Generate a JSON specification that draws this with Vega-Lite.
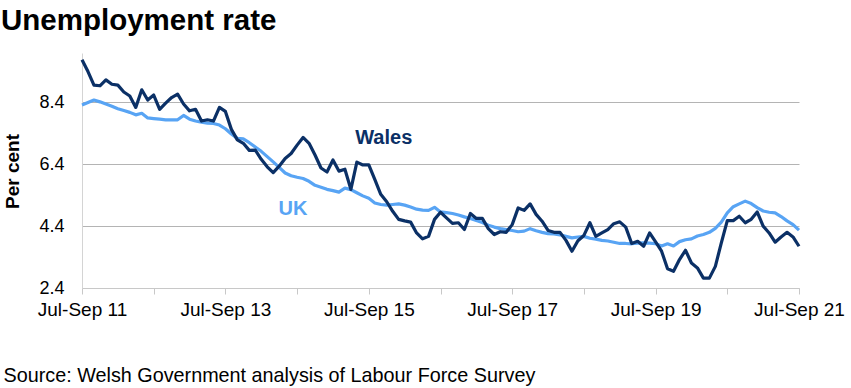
{
  "$schema": "https://vega.github.io/schema/vega-lite/v6.json",
  "width": 717,
  "height": 235,
  "autosize": {"type": "none"},
  "padding": {"left": 82, "top": 53, "right": 52, "bottom": 100},
  "config": {"view": {"stroke": null}, "font": "Liberation Sans"},
  "title": {"text": "Unemployment rate", "anchor": "start", "frame": "bounds", "fontSize": 29.5, "fontWeight": "bold", "color": "#000000", "dx": -2, "offset": 17, "font": "Liberation Sans"},
  "data": {"values": [
    {"period": "Jul-Sep 11", "i": 0, "Wales": 9.78, "UK": 8.32},
    {"period": "Aug-Oct 11", "i": 1, "Wales": 9.4, "UK": 8.40},
    {"period": "Sep-Nov 11", "i": 2, "Wales": 8.96, "UK": 8.48},
    {"period": "Oct-Dec 11", "i": 3, "Wales": 8.94, "UK": 8.42},
    {"period": "Nov-Jan 12", "i": 4, "Wales": 9.13, "UK": 8.35},
    {"period": "Dec-Feb 12", "i": 5, "Wales": 8.99, "UK": 8.28},
    {"period": "Jan-Mar 12", "i": 6, "Wales": 8.96, "UK": 8.20},
    {"period": "Feb-Apr 12", "i": 7, "Wales": 8.74, "UK": 8.14},
    {"period": "Mar-May 12", "i": 8, "Wales": 8.61, "UK": 8.08},
    {"period": "Apr-Jun 12", "i": 9, "Wales": 8.24, "UK": 8.00},
    {"period": "May-Jul 12", "i": 10, "Wales": 8.81, "UK": 8.05},
    {"period": "Jun-Aug 12", "i": 11, "Wales": 8.48, "UK": 7.90},
    {"period": "Jul-Sep 12", "i": 12, "Wales": 8.64, "UK": 7.88},
    {"period": "Aug-Oct 12", "i": 13, "Wales": 8.18, "UK": 7.86},
    {"period": "Sep-Nov 12", "i": 14, "Wales": 8.38, "UK": 7.84},
    {"period": "Oct-Dec 12", "i": 15, "Wales": 8.56, "UK": 7.84},
    {"period": "Nov-Jan 13", "i": 16, "Wales": 8.67, "UK": 7.84},
    {"period": "Dec-Feb 13", "i": 17, "Wales": 8.35, "UK": 7.98},
    {"period": "Jan-Mar 13", "i": 18, "Wales": 8.13, "UK": 7.86},
    {"period": "Feb-Apr 13", "i": 19, "Wales": 8.18, "UK": 7.80},
    {"period": "Mar-May 13", "i": 20, "Wales": 7.80, "UK": 7.76},
    {"period": "Apr-Jun 13", "i": 21, "Wales": 7.84, "UK": 7.73},
    {"period": "May-Jul 13", "i": 22, "Wales": 7.80, "UK": 7.72},
    {"period": "Jun-Aug 13", "i": 23, "Wales": 8.24, "UK": 7.67},
    {"period": "Jul-Sep 13", "i": 24, "Wales": 8.11, "UK": 7.55},
    {"period": "Aug-Oct 13", "i": 25, "Wales": 7.53, "UK": 7.38},
    {"period": "Sep-Nov 13", "i": 26, "Wales": 7.19, "UK": 7.24},
    {"period": "Oct-Dec 13", "i": 27, "Wales": 7.08, "UK": 7.22},
    {"period": "Nov-Jan 14", "i": 28, "Wales": 6.85, "UK": 7.10},
    {"period": "Dec-Feb 14", "i": 29, "Wales": 6.86, "UK": 6.96},
    {"period": "Jan-Mar 14", "i": 30, "Wales": 6.56, "UK": 6.82},
    {"period": "Feb-Apr 14", "i": 31, "Wales": 6.32, "UK": 6.65},
    {"period": "Mar-May 14", "i": 32, "Wales": 6.13, "UK": 6.48},
    {"period": "Apr-Jun 14", "i": 33, "Wales": 6.34, "UK": 6.30},
    {"period": "May-Jul 14", "i": 34, "Wales": 6.59, "UK": 6.12},
    {"period": "Jun-Aug 14", "i": 35, "Wales": 6.75, "UK": 6.03},
    {"period": "Jul-Sep 14", "i": 36, "Wales": 7.02, "UK": 5.98},
    {"period": "Aug-Oct 14", "i": 37, "Wales": 7.27, "UK": 5.94},
    {"period": "Sep-Nov 14", "i": 38, "Wales": 7.08, "UK": 5.85},
    {"period": "Oct-Dec 14", "i": 39, "Wales": 6.70, "UK": 5.72},
    {"period": "Nov-Jan 15", "i": 40, "Wales": 6.28, "UK": 5.66},
    {"period": "Dec-Feb 15", "i": 41, "Wales": 6.15, "UK": 5.59},
    {"period": "Jan-Mar 15", "i": 42, "Wales": 6.54, "UK": 5.55},
    {"period": "Feb-Apr 15", "i": 43, "Wales": 6.18, "UK": 5.50},
    {"period": "Mar-May 15", "i": 44, "Wales": 6.24, "UK": 5.63},
    {"period": "Apr-Jun 15", "i": 45, "Wales": 5.59, "UK": 5.58},
    {"period": "May-Jul 15", "i": 46, "Wales": 6.47, "UK": 5.48},
    {"period": "Jun-Aug 15", "i": 47, "Wales": 6.38, "UK": 5.38},
    {"period": "Jul-Sep 15", "i": 48, "Wales": 6.38, "UK": 5.30},
    {"period": "Aug-Oct 15", "i": 49, "Wales": 5.91, "UK": 5.15},
    {"period": "Sep-Nov 15", "i": 50, "Wales": 5.43, "UK": 5.10},
    {"period": "Oct-Dec 15", "i": 51, "Wales": 5.19, "UK": 5.08},
    {"period": "Nov-Jan 16", "i": 52, "Wales": 4.88, "UK": 5.10},
    {"period": "Dec-Feb 16", "i": 53, "Wales": 4.62, "UK": 5.12},
    {"period": "Jan-Mar 16", "i": 54, "Wales": 4.57, "UK": 5.08},
    {"period": "Feb-Apr 16", "i": 55, "Wales": 4.53, "UK": 5.02},
    {"period": "Mar-May 16", "i": 56, "Wales": 4.18, "UK": 4.95},
    {"period": "Apr-Jun 16", "i": 57, "Wales": 3.99, "UK": 4.92},
    {"period": "May-Jul 16", "i": 58, "Wales": 4.07, "UK": 4.91},
    {"period": "Jun-Aug 16", "i": 59, "Wales": 4.62, "UK": 5.01},
    {"period": "Jul-Sep 16", "i": 60, "Wales": 4.85, "UK": 4.86},
    {"period": "Aug-Oct 16", "i": 61, "Wales": 4.67, "UK": 4.84},
    {"period": "Sep-Nov 16", "i": 62, "Wales": 4.49, "UK": 4.81},
    {"period": "Oct-Dec 16", "i": 63, "Wales": 4.51, "UK": 4.76},
    {"period": "Nov-Jan 17", "i": 64, "Wales": 4.29, "UK": 4.70},
    {"period": "Dec-Feb 17", "i": 65, "Wales": 4.81, "UK": 4.65},
    {"period": "Jan-Mar 17", "i": 66, "Wales": 4.65, "UK": 4.58},
    {"period": "Feb-Apr 17", "i": 67, "Wales": 4.65, "UK": 4.52},
    {"period": "Mar-May 17", "i": 68, "Wales": 4.32, "UK": 4.43},
    {"period": "Apr-Jun 17", "i": 69, "Wales": 4.13, "UK": 4.37},
    {"period": "May-Jul 17", "i": 70, "Wales": 4.22, "UK": 4.32},
    {"period": "Jun-Aug 17", "i": 71, "Wales": 4.20, "UK": 4.29},
    {"period": "Jul-Sep 17", "i": 72, "Wales": 4.45, "UK": 4.26},
    {"period": "Aug-Oct 17", "i": 73, "Wales": 4.99, "UK": 4.22},
    {"period": "Sep-Nov 17", "i": 74, "Wales": 4.91, "UK": 4.24},
    {"period": "Oct-Dec 17", "i": 75, "Wales": 5.12, "UK": 4.32},
    {"period": "Nov-Jan 18", "i": 76, "Wales": 4.78, "UK": 4.25},
    {"period": "Dec-Feb 18", "i": 77, "Wales": 4.56, "UK": 4.20},
    {"period": "Jan-Mar 18", "i": 78, "Wales": 4.26, "UK": 4.16},
    {"period": "Feb-Apr 18", "i": 79, "Wales": 4.20, "UK": 4.15},
    {"period": "Mar-May 18", "i": 80, "Wales": 4.20, "UK": 4.12},
    {"period": "Apr-Jun 18", "i": 81, "Wales": 3.94, "UK": 4.07},
    {"period": "May-Jul 18", "i": 82, "Wales": 3.59, "UK": 4.02},
    {"period": "Jun-Aug 18", "i": 83, "Wales": 3.93, "UK": 4.05},
    {"period": "Jul-Sep 18", "i": 84, "Wales": 4.10, "UK": 4.07},
    {"period": "Aug-Oct 18", "i": 85, "Wales": 4.51, "UK": 4.01},
    {"period": "Sep-Nov 18", "i": 86, "Wales": 4.07, "UK": 3.98},
    {"period": "Oct-Dec 18", "i": 87, "Wales": 4.18, "UK": 3.94},
    {"period": "Nov-Jan 19", "i": 88, "Wales": 4.29, "UK": 3.92},
    {"period": "Dec-Feb 19", "i": 89, "Wales": 4.48, "UK": 3.88},
    {"period": "Jan-Mar 19", "i": 90, "Wales": 4.54, "UK": 3.84},
    {"period": "Feb-Apr 19", "i": 91, "Wales": 4.37, "UK": 3.84},
    {"period": "Mar-May 19", "i": 92, "Wales": 3.84, "UK": 3.83},
    {"period": "Apr-Jun 19", "i": 93, "Wales": 3.91, "UK": 3.85},
    {"period": "May-Jul 19", "i": 94, "Wales": 3.75, "UK": 3.86},
    {"period": "Jun-Aug 19", "i": 95, "Wales": 4.18, "UK": 3.85},
    {"period": "Jul-Sep 19", "i": 96, "Wales": 3.89, "UK": 3.83},
    {"period": "Aug-Oct 19", "i": 97, "Wales": 3.59, "UK": 3.76},
    {"period": "Sep-Nov 19", "i": 98, "Wales": 3.02, "UK": 3.83},
    {"period": "Oct-Dec 19", "i": 99, "Wales": 2.94, "UK": 3.76},
    {"period": "Nov-Jan 20", "i": 100, "Wales": 3.32, "UK": 3.90},
    {"period": "Dec-Feb 20", "i": 101, "Wales": 3.62, "UK": 3.96},
    {"period": "Jan-Mar 20", "i": 102, "Wales": 3.21, "UK": 3.99},
    {"period": "Feb-Apr 20", "i": 103, "Wales": 3.05, "UK": 4.08},
    {"period": "Mar-May 20", "i": 104, "Wales": 2.72, "UK": 4.13},
    {"period": "Apr-Jun 20", "i": 105, "Wales": 2.72, "UK": 4.20},
    {"period": "May-Jul 20", "i": 106, "Wales": 3.10, "UK": 4.33},
    {"period": "Jun-Aug 20", "i": 107, "Wales": 3.86, "UK": 4.53},
    {"period": "Jul-Sep 20", "i": 108, "Wales": 4.58, "UK": 4.83},
    {"period": "Aug-Oct 20", "i": 109, "Wales": 4.58, "UK": 5.03},
    {"period": "Sep-Nov 20", "i": 110, "Wales": 4.72, "UK": 5.12},
    {"period": "Oct-Dec 20", "i": 111, "Wales": 4.51, "UK": 5.21},
    {"period": "Nov-Jan 21", "i": 112, "Wales": 4.62, "UK": 5.13},
    {"period": "Dec-Feb 21", "i": 113, "Wales": 4.86, "UK": 5.00},
    {"period": "Jan-Mar 21", "i": 114, "Wales": 4.40, "UK": 4.89},
    {"period": "Feb-Apr 21", "i": 115, "Wales": 4.18, "UK": 4.85},
    {"period": "Mar-May 21", "i": 116, "Wales": 3.88, "UK": 4.83},
    {"period": "Apr-Jun 21", "i": 117, "Wales": 4.05, "UK": 4.71},
    {"period": "May-Jul 21", "i": 118, "Wales": 4.20, "UK": 4.57},
    {"period": "Jun-Aug 21", "i": 119, "Wales": 4.05, "UK": 4.45},
    {"period": "Jul-Sep 21", "i": 120, "Wales": 3.75, "UK": 4.27}
  ]},
  "encoding": {
    "x": {
      "field": "i", "type": "quantitative",
      "scale": {"domain": [0, 120], "nice": false, "zero": false},
      "axis": {
        "values": [0, 12, 24, 36, 48, 60, 72, 84, 96, 108, 120],
        "labelExpr": "datum.value % 24 === 0 ? 'Jul-Sep ' + (11 + datum.value / 12) : ''",
        "grid": false, "tickSize": 6, "tickColor": "#c8c8c8", "domainColor": "#c8c8c8",
        "labelFontSize": 19, "labelColor": "#000000", "labelPadding": 6,
        "labelFlush": false, "labelOverlap": false, "labelFont": "Liberation Sans",
        "title": "Source: Welsh Government analysis of Labour Force Survey",
        "titleFont": "Liberation Sans", "titleFontSize": 19.8, "titleFontWeight": "normal",
        "titleColor": "#000000", "titleAnchor": "start", "titleAlign": "left",
        "titleX": -79, "titleY": 93, "titleBaseline": "alphabetic"
      }
    },
    "y": {
      "field": "value", "type": "quantitative",
      "scale": {"domain": [2.4, 10.0], "nice": false, "zero": false},
      "axis": {
        "values": [2.4, 4.4, 6.4, 8.4], "format": ".1f",
        "grid": true, "gridColor": "#b4b4b4", "gridWidth": 1,
        "ticks": false, "domainColor": "#d4d4d4",
        "labelFontSize": 18, "labelPadding": 18, "labelColor": "#000000", "labelFont": "Liberation Sans",
        "title": "Per cent", "titleFont": "Liberation Sans", "titleFontSize": 19, "titleFontWeight": "bold",
        "titleColor": "#000000", "titleAngle": 270, "titleX": -70, "titleY": 118,
        "titleAlign": "center", "titleBaseline": "middle"
      }
    }
  },
  "layer": [
    {
      "transform": [{"fold": ["UK", "Wales"], "as": ["series", "value"]}],
      "mark": {"type": "line", "strokeWidth": 3.2, "strokeJoin": "round"},
      "encoding": {
        "color": {"field": "series", "type": "nominal", "scale": {"domain": ["Wales", "UK"], "range": ["#0b3066", "#58a4f4"]}, "legend": null}
      }
    },
    {
      "data": {"values": [
        {"i": 50.5, "value": 7.05, "series": "Wales"},
        {"i": 35.3, "value": 4.75, "series": "UK"}
      ]},
      "mark": {"type": "text", "fontWeight": "bold", "fontSize": 20, "align": "center", "baseline": "alphabetic", "font": "Liberation Sans"},
      "encoding": {
        "text": {"field": "series"},
        "color": {"field": "series", "type": "nominal", "scale": {"domain": ["Wales", "UK"], "range": ["#0b3066", "#58a4f4"]}, "legend": null}
      }
    }
  ]
}
